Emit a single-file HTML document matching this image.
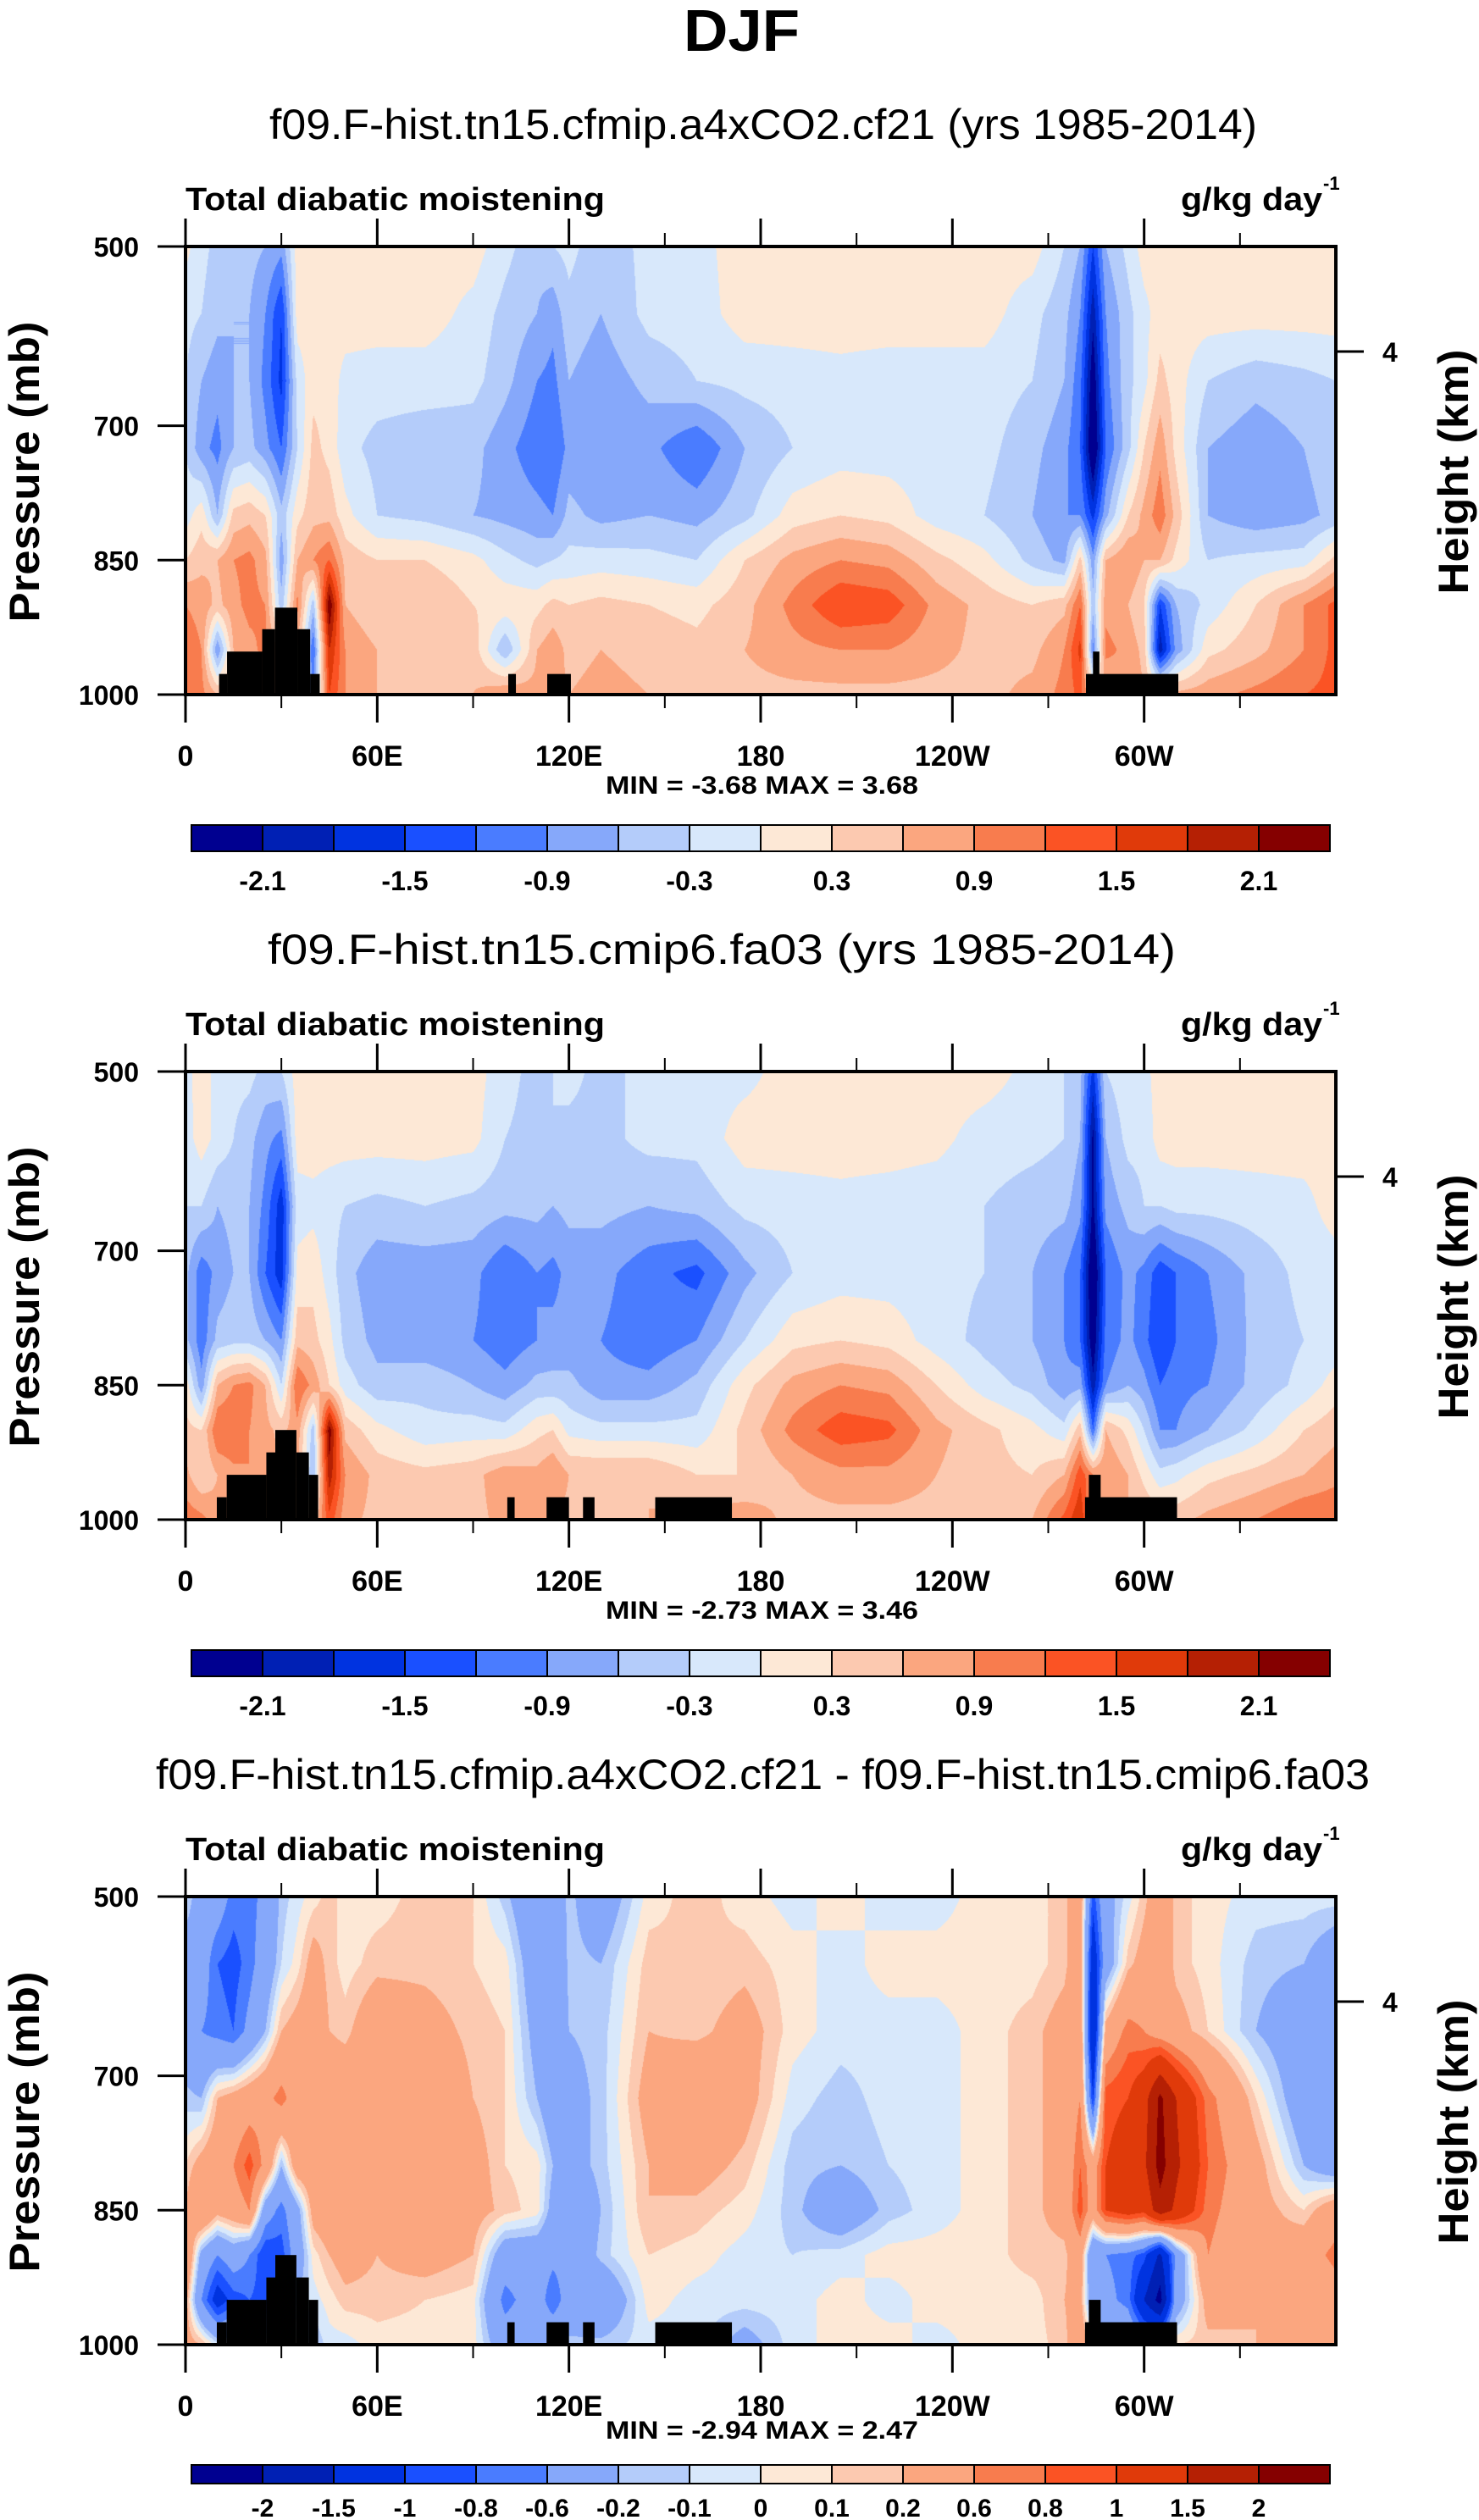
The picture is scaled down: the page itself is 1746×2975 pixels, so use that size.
<!DOCTYPE html>
<html><head><meta charset="utf-8"><style>
html,body{margin:0;padding:0;background:#fff;}
#wrap{position:relative;width:1746px;height:2975px;overflow:hidden;background:#fff;}
canvas{position:absolute;}
svg{position:absolute;left:0;top:0;}
text{font-family:"Liberation Sans",Arial,sans-serif;fill:#000;}
</style></head><body>
<div id="wrap">
<canvas id="c0" width="1358" height="529" style="left:219px;top:291px"></canvas>
<canvas id="c1" width="1358" height="529" style="left:219px;top:1265px"></canvas>
<canvas id="c2" width="1358" height="529" style="left:219px;top:2239px"></canvas>
<svg id="svg" width="1746" height="2975" xmlns="http://www.w3.org/2000/svg">
<text x="807" y="60" font-size="70" font-weight="bold" textLength="137" lengthAdjust="spacingAndGlyphs">DJF</text>
</svg>
</div>
<script>
// ---- data ----
const lons = [0,5,10,15,20,25,30,35,40,45,50,60,75,90,100,110,115,120,130,145,160,175,190,205,220,235,250,265,275,280,284,288,295,300,305,310,320,335,350,360];
const levels = [500,575,650,725,800,850,900,950,1000];
const cmapColors = ['#000090','#0020b4','#0033e0','#1a50ff','#4a7cff','#86a8fa','#b4ccfa','#d8e8fb','#fde8d6','#fcc9b0','#fba67f','#f87c4e','#fb5324','#e03a0a','#b52004','#850000'];
const contourLevelsAB = [-2.1,-1.8,-1.5,-1.2,-0.9,-0.6,-0.3,0,0.3,0.6,0.9,1.2,1.5,1.8,2.1];
const contourLevelsC = [-2,-1.5,-1,-0.8,-0.6,-0.2,-0.1,0,0.1,0.2,0.6,0.8,1,1.5,2];
const labelsAB = ['-2.1','','-1.5','','-0.9','','-0.3','','0.3','','0.9','','1.5','','2.1'];
const labelsC = ['-2','-1.5','-1','-0.8','-0.6','-0.2','-0.1','0','0.1','0.2','0.6','0.8','1','1.5','2'];
const xTickLons = [0,60,120,180,240,300];
const xTickLabels = ['0','60E','120E','180','120W','60W'];
const xMinorLons = [30,90,150,210,270,330];
const yTickP = [500,700,850,1000];

const fieldA = [
[0.1,-0.2,-0.4,-0.4,-0.5,-0.6,-0.8, 0.15,0.15,0.15,0.15,0.15,0.15,0.15, -0.2,-0.5,-0.3,-0.2,-0.5,-0.2,-0.1, 0.15,0.15,0.15,0.15,0.15,0.15,0.15, -0.3,-0.6,-1.5,-0.6,-0.2, 0.15,0.15,0.15,0.15,0.15,0.15,0.15],
[-0.2,-0.3,-0.5,-0.6,-0.6,-0.9,-1.5, 0.15,0.15,0.15,0.15,0.15,0.15,-0.1, -0.4,-0.6,-0.8,-0.4,-0.6,-0.2,-0.15, 0.15,0.15,0.15,0.15,0.15,0.15,-0.2, -0.5,-0.9,-2.0,-0.9,-0.4, -0.1,0.15,0.15,0.15,0.15,0.15,0.15],
[-0.3,-0.6,-0.8,-0.6,-0.6,-1.0,-1.6, -0.2,0.2,0.15,-0.1,-0.15,-0.15,-0.2, -0.5,-0.9,-1.0,-0.6,-0.8,-0.5,-0.3, -0.2,-0.15,-0.1,-0.15,-0.15,-0.15,-0.3, -0.6,-1.1,-2.4,-1.0,-0.4, -0.1,0.4,0.15,-0.3,-0.5,-0.4,-0.3],
[-0.3,-0.8,-1.0,-0.6,-0.5,-0.8,-1.2, -0.3,0.4,0.2,-0.2,-0.4,-0.5,-0.5, -0.8,-1.1,-1.2,-0.8,-0.9,-0.8,-1.2, -0.6,-0.3,-0.15,-0.15,-0.15,-0.2,-0.5, -0.8,-1.2,-2.6,-1.2,-0.4, 0.3,0.8,0.2,-0.6,-0.8,-0.6,-0.4],
[-0.15,0.2,-0.6,0.4,0.5,0.3,-0.5, 0.2,0.5,0.5,0.1,-0.3,-0.4,-0.6, -0.7,-0.8,-0.9,-0.5,-0.7,-0.6,-0.7, -0.4,0.15,0.3,0.2,-0.15,-0.3,-0.6, -0.9,-0.9,-1.6,-0.7,0.3, 0.7,1.1,0.5,-0.6,-0.8,-0.7,-0.5],
[0.3,0.5,0.6,0.9,1.0,0.7,-0.8, 0.6,0.9,1.2,0.5,0.3,0.3,0.1, -0.2,-0.4,-0.3,-0.2,-0.15,-0.2,-0.3, 0.3,0.7,0.9,0.8,0.4,0.1,-0.4, -0.7,0.4,-0.8,0.6,0.9, 0.6,0.6,0.2,-0.3,-0.2,-0.15,0.4],
[0.9,0.8,0.5,0.8,1.0,0.9,-0.5, 1.0,-0.5,2.4,0.6,0.3,0.6,0.3, 0.2,0.2,0.4,0.3,0.4,0.3,0.2, 0.5,1.0,1.5,1.4,0.8,0.5,0.3, 0.5,1.2,-0.5,0.8,0.6, 0.3,-1.5,-0.6,-0.2,0.3,0.9,1.3],
[1.1,0.9,-0.9,0.6,0.8,1.0,0.5, 0.6,-1.2,1.8,0.9,0.6,0.5,0.5, -0.6,0.6,0.8,0.5,0.6,0.5,0.4, 0.6,0.8,0.9,0.9,0.7,0.5,0.5, 0.9,1.6,-1.0,1.0,0.8, 0.5,-2.0,-0.8,0.2,0.5,0.9,1.3],
[1.2,1.0,0.6,0.6,0.6,0.6,0.6, 0.6,-0.9,1.5,0.9,0.6,0.6,0.6, 0.9,0.7,0.7,0.6,0.7,0.6,0.6, 0.5,0.5,0.5,0.5,0.5,0.5,0.7, 1.0,1.3,0.5,0.5,0.9, 0.6,0.6,0.7,0.8,1.0,1.2,1.3]
];
const fieldB = [
[-0.1,0.15,-0.1,-0.2,-0.2,-0.4,-0.3, 0.15,0.15,0.15,0.15,0.15,0.15,0.15, -0.2,-0.4,-0.3,-0.2,-0.4,-0.2,-0.1, -0.1,0.15,0.15,0.15,0.15,0.15,-0.1, -0.3,-0.5,-1.6,-0.3,-0.1, -0.1,0.15,0.15,0.15,0.15,0.15,0.15],
[-0.15,0.15,-0.1,-0.3,-0.5,-0.8,-1.0, 0.15,0.15,0.15,0.15,0.15,0.15,0.1, -0.3,-0.4,-0.3,-0.4,-0.4,-0.2,-0.2, 0.15,0.15,0.15,0.15,0.1,-0.15,-0.2, -0.3,-0.6,-2.2,-0.6,-0.2, -0.2,0.15,0.15,0.15,0.15,0.15,0.15],
[-0.3,-0.3,-0.6,-0.5,-0.6,-1.0,-1.7, -0.15,-0.1,-0.2,-0.3,-0.4,-0.3,-0.4, -0.5,-0.5,-0.6,-0.5,-0.5,-0.6,-0.5, -0.2,-0.15,-0.1,-0.15,-0.2,-0.3,-0.45, -0.5,-0.8,-2.2,-0.8,-0.5, -0.3,-0.3,-0.2,-0.2,-0.15,-0.1,0.15],
[-0.5,-1.1,-0.8,-0.6,-0.6,-1.2,-1.7, 0.1,0.2,-0.15,-0.5,-0.8,-0.8,-0.8, -1.2,-0.9,-1.0,-0.8,-0.8,-1.1,-1.3, -0.7,-0.3,-0.15,-0.15,-0.2,-0.3,-0.6, -0.9,-1.2,-2.6,-1.2,-0.8, -1.0,-1.4,-1.2,-0.9,-0.5,-0.2,-0.15],
[-0.5,-1.1,-0.5,-0.4,-0.4,-0.6,-0.9, 0.5,0.4,0.1,-0.4,-0.7,-0.8,-0.9, -1.1,-0.9,-0.8,-0.8,-0.9,-1.1,-0.9, -0.3,0.2,0.3,0.2,-0.15,-0.4,-0.6, -0.9,-1.2,-2.4,-1.1,-0.8, -1.1,-1.5,-1.2,-1.0,-0.5,-0.3,-0.2],
[0.2,-0.8,0.6,0.9,1.0,0.6,-0.3, 1.2,0.8,0.3,-0.15,-0.5,-0.4,-0.6, -0.8,-0.5,-0.5,-0.5,-0.8,-0.8,-0.5, 0.2,0.7,0.9,0.8,0.3,-0.15,-0.4, -0.8,-0.7,-2.0,-0.9,-0.6, -0.8,-1.2,-1.0,-0.9,-0.5,-0.2,0.15],
[0.4,0.3,1.2,1.2,0.9,0.7,0.5, 0.8,-0.5,2.3,0.5,0.1,-0.2,-0.15, -0.2,0.2,0.3,-0.1,-0.2,-0.2,-0.2, 0.4,1.0,1.4,1.3,0.7,0.4,0.1, -0.2,0.5,-1.2,0.6,0.2, -0.3,-0.9,-0.9,-0.6,-0.2,0.3,0.5],
[0.7,0.3,0.6,0.8,0.9,0.8,0.6, 0.6,-0.6,2.0,0.9,0.5,0.4,0.5, 0.8,0.7,0.9,0.6,0.6,0.6,0.3, 0.3,0.6,0.8,0.8,0.6,0.4,0.3, 0.6,1.4,0.9,0.9,0.6, 0.2,-0.2,-0.1,0.2,0.4,0.6,0.8],
[1.1,1.0,0.7,0.6,0.6,0.6,0.6, 0.6,0.3,1.4,0.7,0.5,0.5,0.5, 0.7,0.6,0.6,0.5,0.5,0.6,0.7, 0.8,0.5,0.5,0.5,0.5,0.6,0.6, 1.3,1.8,0.6,0.6,0.6, 0.6,0.5,0.5,0.7,0.9,1.2,1.2]
];
const fieldC = [
[-0.05,-0.4,-0.4,-0.7,-0.7,-0.5,-0.15, -0.05,0.05,0.15,0.05,0.05,0.15,0.1, -0.15,-0.5,-0.4,-0.15,-0.4,0.05,0.15, 0.05,-0.05,0.05,-0.05,-0.05,0.05,0.05, 0.15,0.4,-0.9,-0.3,-0.05, 0.15,0.4,0.15,0.05,-0.05,-0.05,-0.05],
[-0.4,-0.4,-0.8,-0.9,-0.7,-0.4,-0.1, 0.05,0.3,0.15,0.05,0.15,0.15,0.1, 0.05,-0.4,-0.6,-0.15,-0.2,0.15,0.1, 0.15,0.05,-0.05,0.05,0.05,0.05,0.05, 0.15,0.4,-1.3,-0.4,0.15, 0.3,0.4,0.15,0.05,-0.15,-0.2,-0.4],
[-0.4,-0.6,-0.7,-0.8,-0.5,-0.2,0.2, 0.3,0.4,0.2,0.15,0.4,0.3,0.15, 0.1,-0.3,-0.6,-0.2,-0.15,0.2,0.15, 0.3,0.05,-0.05,-0.05,-0.05,0.05,0.15, 0.3,0.5,-1.5,0.3,0.7, 0.6,0.4,0.3,0.1,-0.2,-0.4,-0.5],
[-0.15,-0.2,0.2,0.3,0.4,0.5,0.7, 0.4,0.3,0.4,0.4,0.5,0.5,0.2, 0.1,-0.2,-0.4,-0.3,-0.15,0.3,0.5, 0.3,-0.05,-0.15,-0.05,-0.05,0.05,0.15, 0.3,0.6,-1.0,0.9,1.0, 1.3,2.1,1.5,0.7,0.1,-0.4,-0.6],
[0.1,0.3,0.4,0.6,0.9,0.5,-0.2, 0.4,0.4,0.4,0.4,0.4,0.4,0.3, 0.1,0.05,-0.2,-0.3,-0.15,0.2,0.3, 0.15,-0.15,-0.2,-0.1,-0.05,0.05,0.15, 0.3,0.8,0.4,1.0,1.2, 1.4,2.2,1.6,0.8,0.3,-0.2,-0.4],
[0.2,0.6,0.3,0.4,0.6,-0.4,-0.7, -0.3,0.3,0.4,0.4,0.4,0.4,0.3, 0.15,0.05,-0.3,-0.5,-0.2,0.2,0.15, 0.05,-0.15,-0.4,-0.15,-0.05,0.05,0.15, 0.3,0.9,0.4,1.0,1.2, 1.1,1.8,1.4,0.7,0.3,0.1,0.4],
[0.6,-0.3,-0.6,-0.4,-0.6,-1.0,-0.9, -0.4,0.05,0.2,0.3,0.2,0.3,0.2, -0.4,-0.4,-0.5,-0.5,-0.15,0.1,0.05, -0.05,-0.1,-0.05,0.05,0.05,0.05,0.15, 0.15,0.4,-0.6,-0.6,-0.7, -0.9,-1.6,-0.5,0.6,0.2,0.4,0.7],
[0.3,-0.6,-1.2,-0.9,-0.8,-0.9,-0.7, -0.2,-0.05,0.05,0.15,0.15,0.1,0.05, -0.7,-0.4,-0.8,-0.4,-0.5,0.05,-0.05, -0.05,-0.05,0.05,-0.05,0.05,0.05,0.05, 0.2,0.3,-0.5,-0.5,-0.7, -1.5,-2.2,-0.4,0.3,0.2,0.2,0.4],
[0.3,0.2,-0.05,-0.05,0.05,0.05,0.05, 0.05,-0.2,-0.05,-0.05,0.05,0.05,0.05, -0.4,-0.3,-0.2,-0.15,-0.15,-0.05,-0.05, -0.3,-0.05,0.05,0.05,-0.05,0.05,0.05, 0.15,0.4,0.1,-0.1,-0.2, -0.4,-0.2,0.1,0.15,0.2,0.3,0.4]
];
// terrain mask blocks: [lonStart, lonEnd, topPressure]
const topoA = [[10.5,13,977],[13,24,952],[24,28,927],[28,35,903],[35,39,927],[39,42,977],[101,103.4,977],[113.2,120.6,977],[281.8,310.7,977],[284,286,952]];
const topoB = [[9.8,12.9,975],[12.9,25.3,950],[25.3,28.1,925],[28.1,34.7,900],[34.7,38.6,925],[38.6,41.5,950],[100.7,103,975],[113,120,975],[124.4,128,975],[147,171,975],[281.5,310.3,975],[282.7,286.4,950]];
const topoC = [[9.8,12.9,975],[12.9,25.3,950],[25.3,28.1,925],[28.1,34.7,900],[34.7,38.6,925],[38.6,41.5,950],[100.7,103,975],[113,120,975],[124.4,128,975],[147,171,975],[281.5,310.3,975],[282.7,286.4,950]];
const subtitles = ['f09.F-hist.tn15.cfmip.a4xCO2.cf21 (yrs 1985-2014)','f09.F-hist.tn15.cmip6.fa03 (yrs 1985-2014)','f09.F-hist.tn15.cfmip.a4xCO2.cf21 - f09.F-hist.tn15.cmip6.fa03'];
const minMaxText = ['MIN =  -3.68  MAX =   3.68','MIN =  -2.73  MAX =   3.46','MIN =  -2.94  MAX =   2.47'];

// ---- layout ----
const NS='http://www.w3.org/2000/svg';
const svg=document.getElementById('svg');
const PW=1358, PH=529, X0=219;
function xOf(lon){return X0+lon/360*PW;}
function yOf(p,top){return top+(p-500)/500*PH;}
function mk(tag,attrs,parent){const e=document.createElementNS(NS,tag);for(const k in attrs)e.setAttribute(k,attrs[k]);(parent||svg).appendChild(e);return e;}
function hex(h){return [parseInt(h.substr(1,2),16),parseInt(h.substr(3,2),16),parseInt(h.substr(5,2),16)];}
const rgb=cmapColors.map(hex);

function locate(arr,v){let i=0;while(i<arr.length-2&&v>arr[i+1])i++;let t=(v-arr[i])/(arr[i+1]-arr[i]);return [i,Math.max(0,Math.min(1,t))];}

const panels=[
 {field:fieldA,lev:contourLevelsAB,labels:labelsAB,topo:topoA,off:0,sub:[318,1166],cb:[974,31,1051,32],mm:937},
 {field:fieldB,lev:contourLevelsAB,labels:labelsAB,topo:topoB,off:974,sub:[316,1072],cb:[974,31,1051,32],mm:937},
 {field:fieldC,lev:contourLevelsC,labels:labelsC,topo:topoC,off:1948,sub:[184,1433],cb:[962,22,1023,30],mm:931}
];

panels.forEach((P,pi)=>{
 const top=291+P.off;
 const cv=document.getElementById('c'+pi);const ctx=cv.getContext('2d');
 const img=ctx.createImageData(PW,PH);const d=img.data;
 const cols=[];for(let x=0;x<PW;x++)cols.push(locate(lons,(x+0.5)/PW*360));
 for(let y=0;y<PH;y++){
  const [j,u]=locate(levels,500+(y+0.5)/PH*500);
  const r0=P.field[j],r1=P.field[j+1];
  for(let x=0;x<PW;x++){
   const [i,t]=cols[x];
   const v=(r0[i]*(1-t)+r0[i+1]*t)*(1-u)+(r1[i]*(1-t)+r1[i+1]*t)*u;
   let b=0;while(b<P.lev.length&&v>=P.lev[b])b++;
   const c=rgb[b];const k=(y*PW+x)*4;d[k]=c[0];d[k+1]=c[1];d[k+2]=c[2];d[k+3]=255;
  }
 }
 ctx.putImageData(img,0,0);
 const g=mk('g',{});
 
 
 P.topo.forEach(tb=>{
  const r=mk('rect',{x:xOf(tb[0]),y:yOf(tb[2],top),width:xOf(tb[1])-xOf(tb[0]),height:yOf(1000,top)-yOf(tb[2],top),fill:'#000'},g);
  
  
 });
 const fr=mk('rect',{x:X0,y:top,width:PW,height:PH,fill:'none',stroke:'#000','stroke-width':4},g);
 
 
 xTickLons.forEach((lon,k)=>{
  mk('line',{x1:xOf(lon),x2:xOf(lon),y1:top,y2:top-33,stroke:'#000','stroke-width':3},g);
  mk('line',{x1:xOf(lon),x2:xOf(lon),y1:top+PH,y2:top+PH+33,stroke:'#000','stroke-width':3},g);
  const t=mk('text',{x:xOf(lon),y:top+613,'font-size':34,'font-weight':'bold','text-anchor':'middle'},g);
  t.textContent=xTickLabels[k];
  
  
 });
 xMinorLons.forEach(lon=>{
  mk('line',{x1:xOf(lon),x2:xOf(lon),y1:top,y2:top-16,stroke:'#000','stroke-width':2},g);
  mk('line',{x1:xOf(lon),x2:xOf(lon),y1:top+PH,y2:top+PH+16,stroke:'#000','stroke-width':2},g);
 });
 yTickP.forEach(p=>{
  mk('line',{x1:X0,x2:X0-33,y1:yOf(p,top),y2:yOf(p,top),stroke:'#000','stroke-width':3},g);
  const t=mk('text',{x:164,y:yOf(p,top)+12,'font-size':32,'font-weight':'bold','text-anchor':'end'},g);
  t.textContent=String(p);
  
  
 });
 mk('line',{x1:X0+PW,x2:X0+PW+33,y1:top+124,y2:top+124,stroke:'#000','stroke-width':3},g);
 const h4=mk('text',{x:1632,y:top+136,'font-size':32,'font-weight':'bold'},g);h4.textContent='4';
 
 
 const st=mk('text',{x:P.sub[0],y:P.off+164,'font-size':50,textLength:P.sub[1],lengthAdjust:'spacingAndGlyphs'},g);
 st.textContent=subtitles[pi];
 
 
 const lt=mk('text',{x:219,y:P.off+248,'font-size':38,'font-weight':'bold',textLength:495,lengthAdjust:'spacingAndGlyphs'},g);
 lt.textContent='Total diabatic moistening';
 
 
 const ut=mk('text',{x:1394,y:P.off+248,'font-size':38,'font-weight':'bold',textLength:167,lengthAdjust:'spacingAndGlyphs'},g);
 ut.textContent='g/kg day';
 
 
 const us=mk('text',{x:1562,y:P.off+224,'font-size':22,'font-weight':'bold'},g);us.textContent='-1';
 
 
 const yl=mk('text',{x:0,y:0,'font-size':50,'font-weight':'bold','text-anchor':'middle',textLength:355,lengthAdjust:'spacingAndGlyphs',transform:'translate(46,'+(P.off+557)+') rotate(-90)'},g);
 yl.textContent='Pressure (mb)';
 
 
 const hl=mk('text',{x:0,y:0,'font-size':50,'font-weight':'bold','text-anchor':'middle',textLength:289,lengthAdjust:'spacingAndGlyphs',transform:'translate(1733,'+(P.off+557)+') rotate(-90)'},g);
 hl.textContent='Height (km)';
 
 
 const mm=mk('text',{x:715,y:P.off+P.mm,'font-size':30,'font-weight':'bold',textLength:369,lengthAdjust:'spacingAndGlyphs'},g);
 mm.textContent=minMaxText[pi];
 
 
 const cbY=P.off+P.cb[0], cbH=P.cb[1], bw=84, cbX=226;
 cmapColors.forEach((c,k)=>{
  const r=mk('rect',{x:cbX+k*bw,y:cbY,width:bw,height:cbH,fill:c,stroke:'#000','stroke-width':2},g);
  
  
 });
 P.labels.forEach((lab,k)=>{
  if(!lab)return;
  const t=mk('text',{x:cbX+(k+1)*bw,y:P.off+P.cb[2],'font-size':P.cb[3],'font-weight':'bold','text-anchor':'middle'},g);
  t.textContent=lab;
  
  
 });
});
</script>
</body></html>
